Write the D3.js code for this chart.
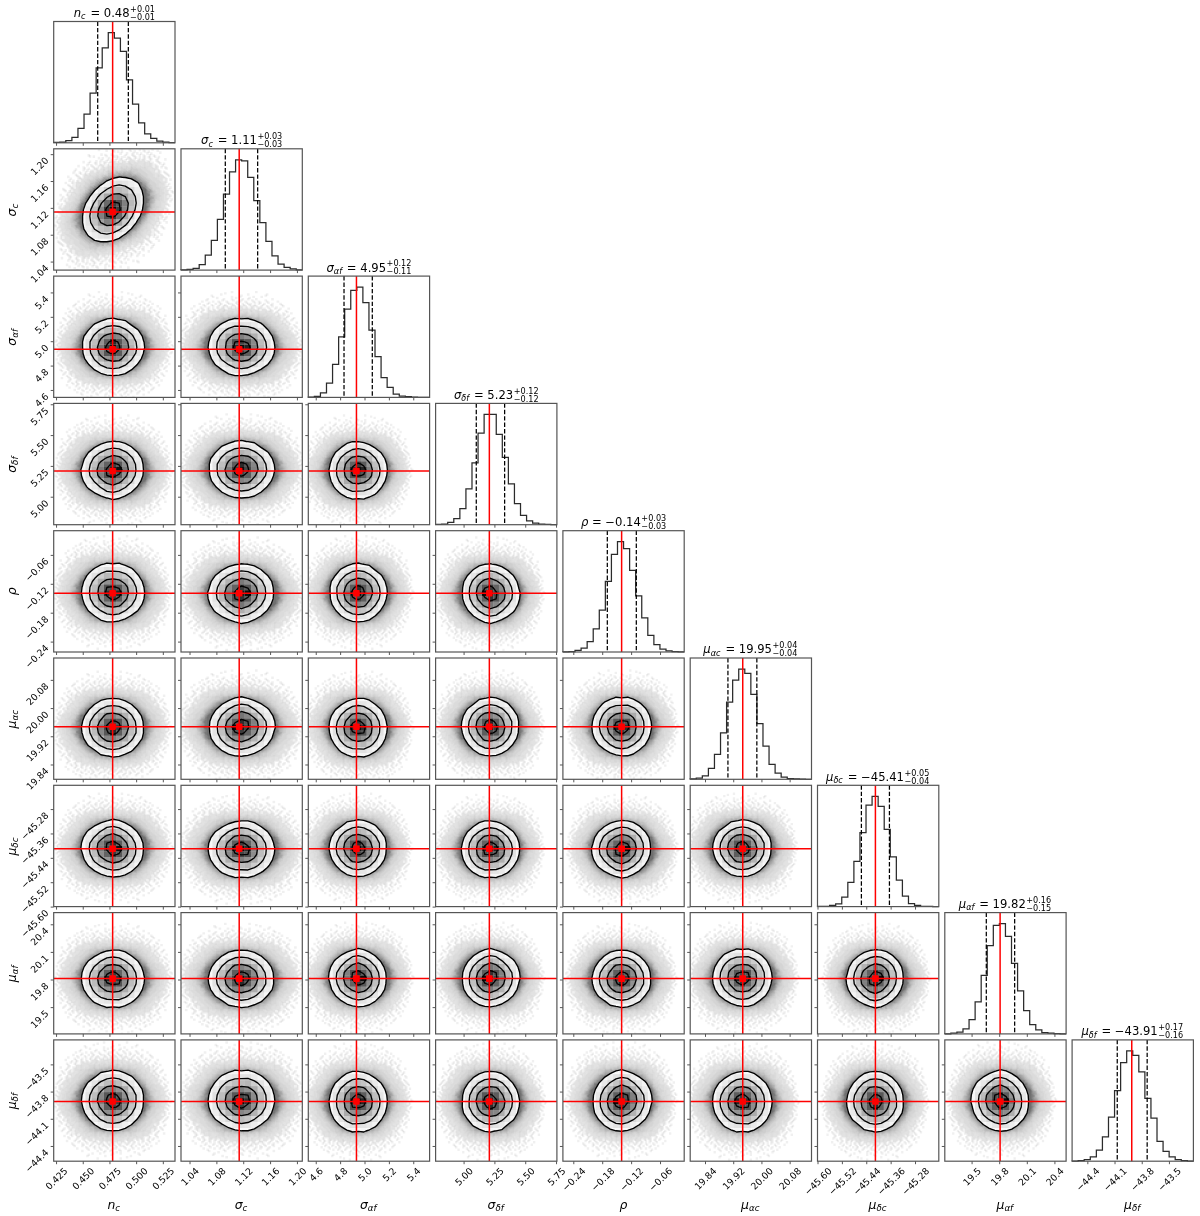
<!DOCTYPE html>
<html>
<head>
<meta charset="utf-8">
<script src="https://d3js.org/d3.v7.min.js"></script>
<style>
  body { margin: 0; background: #fff; }
  svg { filter: blur(0.35px); }
  text { font-family: "DejaVu Sans", sans-serif; fill: #000; }
  .math { font-style: italic; }
</style>
</head>
<body>
<svg id="chart" width="1200" height="1216"></svg>
<script>
// parameter names, split in symbol and subscript
const symbols = ["n", "σ", "σ", "σ", "ρ", "μ", "μ", "μ", "μ"];
const subscripts = ["c", "c", "αf", "δf", "", "αc", "δc", "αf", "δf"];

// axis limits and ticks
const ranges = [[0.4228, 0.5364], [1.0273, 1.208], [4.539, 5.534], [4.773, 5.757],
  [-0.2616, -0.0098], [19.798, 20.142], [-45.6, -45.202], [19.209, 20.527], [-44.568, -43.23]];
const ticks = [[0.425, 0.45, 0.475, 0.5, 0.525], [1.04, 1.08, 1.12, 1.16, 1.2], [4.6, 4.8, 5.0, 5.2, 5.4],
  [5.0, 5.25, 5.5, 5.75], [-0.24, -0.18, -0.12, -0.06], [19.84, 19.92, 20.0, 20.08],
  [-45.6, -45.52, -45.44, -45.36, -45.28], [19.5, 19.8, 20.1, 20.4], [-44.4, -44.1, -43.8, -43.5]];
const tickDecimals = [3, 2, 1, 2, 2, 2, 2, 1, 1];

// titles
const medians = ["0.48", "1.11", "4.95", "5.23", "−0.14", "19.95", "−45.41", "19.82", "−43.91"];
const errPlus = ["0.01", "0.03", "0.12", "0.12", "0.03", "0.04", "0.05", "0.16", "0.17"];
const errMinus = ["0.01", "0.03", "0.11", "0.12", "0.03", "0.04", "0.04", "0.15", "0.16"];

// dashed quantiles and the red truth lines
const q16 = [0.464, 1.0933, 4.832, 5.103, -0.1694, 19.905, -45.456, 19.66, -44.07];
const q84 = [0.4927, 1.1415, 5.064, 5.333, -0.1092, 19.987, -45.364, 19.968, -43.74];
const truths = [0.478, 1.114, 4.934, 5.209, -0.1397, 19.947, -45.41, 19.81, -43.91];

// 20 bin histograms, percent of the peak bin
const hists = [
  [0.3, 0.6, 2, 5, 13, 26, 45, 68, 86, 100, 95, 83, 57, 35, 18, 8, 4, 1.5, 0.6, 0.2],
  [0.3, 0.6, 1.5, 5, 13.5, 27, 46, 69, 89, 100, 99, 84, 63, 43, 26, 13, 5.5, 2.5, 1, 0.3],
  [0.3, 1, 4, 13, 30, 55, 80, 97, 100, 86, 61, 37, 18, 9, 3, 1.2, 0.6, 0.2, 0.1, 0],
  [0.2, 0.6, 2, 5.5, 14.5, 32.5, 56, 83, 100, 100, 82, 61, 37, 19, 8.5, 3.5, 1.5, 0.6, 0.3, 0.1],
  [0.1, 0.4, 1.5, 3.6, 9.4, 21, 38, 64, 88.5, 100, 93.7, 74, 51, 31, 15, 6.6, 2.7, 1, 0.4, 0.1],
  [0.3, 1, 3, 10, 22.6, 42, 70, 90, 100, 96, 77, 50.5, 30, 13.6, 5.5, 2, 0.6, 0.3, 0.1, 0],
  [0.1, 0.3, 1, 2.4, 8.5, 22, 41, 67, 92, 100, 91, 70, 45, 24, 9.4, 2.7, 1, 0.3, 0.1, 0],
  [0.1, 0.6, 1.5, 4.5, 13, 29, 53, 80, 98.5, 100, 88.5, 64, 39, 21, 8.5, 3.6, 1.2, 0.6, 0.2, 0],
  [0.1, 0.5, 1.5, 4, 10, 22, 40, 64, 89.5, 100, 96, 81, 57, 39, 18, 9, 4, 1.5, 0.6, 0.1]
];

// 2d densities, percent of the peak. Too many panels to read one by one, so these are
// eyeballed typical panels, in steps of 0.4 sigma around the middle of the panel.
const densityA = [
  [0, 1, 2, 3, 4, 5, 7, 6, 4, 3, 2, 1, 0],
  [1, 2, 4, 7, 10, 14, 15, 13, 11, 7, 4, 2, 1],
  [2, 4, 8, 15, 21, 27, 30, 27, 22, 13, 8, 4, 2],
  [3, 7, 14, 25, 36, 47, 52, 47, 36, 26, 15, 7, 3],
  [4, 11, 21, 36, 56, 66, 72, 70, 55, 37, 22, 11, 5],
  [5, 13, 28, 46, 66, 84, 95, 86, 70, 47, 28, 14, 6],
  [6, 13, 27, 50, 74, 92, 100, 90, 72, 52, 30, 15, 6],
  [5, 12, 26, 44, 68, 86, 90, 84, 64, 46, 27, 13, 5],
  [4, 10, 19, 34, 52, 65, 71, 68, 50, 34, 19, 10, 4],
  [3, 7, 13, 24, 34, 43, 47, 44, 34, 24, 13, 6, 3],
  [2, 4, 8, 13, 19, 25, 27, 25, 19, 13, 7, 3, 1],
  [1, 2, 3, 6, 9, 12, 13, 12, 10, 6, 3, 2, 1],
  [0, 1, 1, 2, 4, 5, 5, 5, 4, 2, 1, 1, 0]
];
const densityB = [
  [0, 1, 2, 3, 5, 6, 6, 6, 4, 3, 1, 1, 0],
  [1, 2, 4, 8, 11, 15, 14, 15, 12, 7, 4, 2, 1],
  [2, 4, 9, 16, 23, 27, 28, 28, 22, 16, 9, 4, 2],
  [3, 7, 15, 27, 38, 46, 47, 50, 39, 27, 16, 7, 3],
  [4, 11, 22, 38, 54, 66, 72, 66, 56, 38, 23, 11, 4],
  [5, 14, 28, 47, 69, 86, 90, 88, 68, 47, 28, 14, 5],
  [6, 15, 30, 50, 72, 96, 100, 94, 70, 50, 29, 15, 6],
  [5, 14, 26, 46, 65, 84, 92, 82, 66, 45, 27, 13, 5],
  [4, 11, 20, 34, 50, 66, 70, 66, 52, 35, 20, 10, 4],
  [3, 7, 14, 22, 33, 44, 48, 43, 33, 23, 14, 7, 3],
  [2, 4, 7, 12, 18, 24, 27, 25, 20, 13, 8, 4, 2],
  [1, 2, 3, 5, 8, 11, 13, 13, 10, 7, 4, 2, 1],
  [0, 1, 1, 2, 3, 4, 5, 5, 4, 3, 2, 1, 0]
];
const densityC = [
  [0, 1, 1, 3, 4, 5, 6, 5, 4, 3, 1, 1, 0],
  [1, 2, 3, 6, 9, 13, 16, 14, 9, 6, 3, 2, 1],
  [1, 4, 8, 14, 20, 29, 32, 28, 20, 13, 7, 4, 1],
  [3, 7, 16, 24, 34, 46, 54, 44, 34, 23, 13, 6, 2],
  [4, 12, 22, 34, 52, 70, 76, 68, 50, 34, 19, 9, 4],
  [5, 15, 28, 48, 72, 88, 94, 84, 66, 44, 25, 12, 5],
  [6, 16, 30, 52, 74, 90, 98, 100, 74, 48, 27, 13, 5],
  [5, 13, 27, 46, 68, 82, 92, 86, 68, 45, 26, 12, 5],
  [4, 10, 21, 36, 52, 64, 74, 68, 54, 36, 21, 10, 4],
  [3, 6, 14, 25, 34, 44, 50, 46, 36, 25, 14, 7, 3],
  [1, 3, 8, 13, 19, 25, 29, 27, 21, 14, 8, 4, 2],
  [1, 2, 3, 6, 9, 12, 14, 13, 10, 7, 4, 2, 1],
  [0, 1, 1, 2, 3, 5, 6, 5, 4, 3, 1, 1, 0]
];
// the one panel with a visible correlation (n_c against sigma_c)
const densityTilted = [
  [0, 0, 0, 1, 2, 3, 4, 5, 6, 5, 4, 2, 1],
  [0, 0, 1, 2, 5, 8, 11, 14, 13, 11, 8, 5, 2],
  [0, 1, 3, 6, 11, 18, 25, 29, 26, 21, 15, 8, 4],
  [1, 2, 6, 13, 23, 35, 46, 48, 44, 33, 20, 11, 5],
  [2, 5, 11, 23, 40, 58, 70, 72, 61, 44, 26, 13, 6],
  [3, 8, 18, 35, 58, 80, 92, 88, 72, 49, 28, 13, 5],
  [4, 11, 25, 45, 70, 92, 100, 92, 70, 45, 24, 11, 4],
  [5, 13, 28, 49, 72, 88, 92, 80, 58, 35, 18, 8, 3],
  [6, 13, 26, 44, 61, 72, 70, 58, 40, 23, 11, 5, 2],
  [5, 11, 21, 33, 44, 48, 45, 35, 23, 13, 6, 2, 1],
  [4, 8, 14, 21, 26, 28, 24, 18, 11, 6, 3, 1, 0],
  [2, 5, 8, 11, 13, 13, 11, 8, 5, 2, 1, 0, 0],
  [1, 2, 4, 5, 6, 5, 4, 3, 2, 1, 0, 0, 0]
];
const densities = [densityA, densityB, densityC, densityTilted];
const levels = [13.5, 32.5, 60.7, 88]; // 2, 1.5, 1 and 0.5 sigma

// which density each panel uses and how it is mirrored (1 = x, 2 = y), row by row
const panelShape = [[3], [0, 1], [2, 0, 1], [1, 2, 0, 2], [0, 2, 1, 0, 1], [2, 1, 0, 1, 2, 0],
  [1, 0, 2, 2, 0, 1, 2], [0, 1, 1, 0, 2, 1, 0, 2]];
const panelFlip = [[0], [0, 1], [2, 0, 3], [1, 2, 0, 3], [3, 1, 2, 1, 0], [0, 2, 1, 3, 2, 1],
  [2, 3, 0, 1, 3, 0, 2], [1, 0, 3, 2, 1, 2, 3, 0]];
const panelShear = [[0.25]];

// scatter halo outside the contours, darkness 0-9, in steps of 1/6 sigma. The middle sits
// under the white contour patch.
const halo = [
  "000000000000000000100000000100000000000000000000",
  "000000000000001000000100000000010000000000000000",
  "000000000000000010010000100100000010000000000000",
  "000000000000100000100101000100100000100000000000",
  "000000000010001001010010110001001010001000000000",
  "000000000100100101001101010110010100100100000000",
  "000000001000101010121011201101201010010001000000",
  "000000100101010112012122112210211010101000100000",
  "000000010010121112213122321221312112101010000000",
  "000001001012112223232343332323232211211001000000",
  "000000101121223234344455454443343221212101001000",
  "000010011212233445556666656565544432322110100000",
  "000001012122334556677999999776654433221211010000",
  "000100112123345667999999999999766543322121001000",
  "000010121223456799999999999999997654332211100000",
  "000101212234567999999999999999999765432212101000",
  "001001112335679999999999999999999976543222110100",
  "000101223346799999999999999999999997653322111000",
  "000112223457999999999999999999999999754332211010",
  "001012233468999999999999999999999999964332121000",
  "000112234569999999999999999999999999976433211100",
  "010122234579999999999999999999999999986542221010",
  "001112335679999999999999999999999999986543221100",
  "001212345689999999999999999999999999997643321101",
  "010122345679999999999999999999999999996543221010",
  "001112334589999999999999999999999999976532221100",
  "000122334679999999999999999999999999986432211010",
  "001012233569999999999999999999999999975433211100",
  "000112233457999999999999999999999999864332121000",
  "000101223346799999999999999999999997643322110100",
  "001011122345699999999999999999999996543221101000",
  "000101212234568999999999999999999975432212010000",
  "000010112223456799999999999999997654332111001000",
  "000100101223345678999999999999876543221210100000",
  "000001011122334456678999999877654433221101000000",
  "000010010112233345556667766665544332121010010000",
  "000000100111222334344555544543433322111001000000",
  "000000010011211223233334333232322121101010000000",
  "000000100100112112122322123121211211010001000000",
  "000000001010101011211121212111101101001000000000",
  "000000000100100101011011101010110010010000000000",
  "000000000010010010100101010101001001000100000000",
  "000000000000100010010010001001010010000000000000",
  "000000000001000001000100100010000100000000000000",
  "000000000000000100000010000100000000000000000000",
  "000000000000010000000000100000000100000000000000",
  "000000000000000000100000000000000000000000000000",
  "000000000000000000000000000000000000000000000000"
];
const haloOpacity = [0, 0.06, 0.075, 0.09, 0.115, 0.15, 0.2, 0.25, 0.3, 0.34];

// layout
const left0 = 53.7, top0 = 21.5, step = 127.3, size = 121.3;
const tickFont = 9.3, titleFont = 11.6, labelFont = 12.4;
const n = symbols.length;

const svg = d3.select("#chart");

const xs = ranges.map((r, i) => d3.scaleLinear().domain(r).range([left0 + i * step, left0 + i * step + size]));
const ys = ranges.map((r, i) => d3.scaleLinear().domain(r).range([top0 + i * step + size, top0 + i * step]));
const mids = q16.map((q, i) => (q + q84[i]) / 2);
const sigmas = q16.map((q, i) => (q84[i] - q) / 2);

const cellOpacity = d3.scaleLinear().domain([0, 13.5, 32, 60, 88, 100]).range([0, 0.03, 0.14, 0.36, 0.68, 0.95]).clamp(true);

function mathLabel(sel, sym, sub, size) {
  sel.append("tspan").attr("class", "math").text(sym);
  if (sub) {
    sel.append("tspan").attr("class", "math").attr("font-size", size * 0.7).attr("dy", size * 0.2).text(sub);
    sel.append("tspan").attr("dy", -size * 0.2).text("\u200a");
  }
}

// ticks only; the frame is drawn separately so it ends up on top
function drawAxis(g, axis, dim, showLabels) {
  g.call(axis.tickSizeOuter(0));
  g.select(".domain").remove();
  g.selectAll(".tick line").attr("stroke", "#444").attr("stroke-width", 0.9);
  g.selectAll(".tick text")
    .attr("font-family", "DejaVu Sans")
    .attr("font-size", tickFont)
    .style("display", showLabels ? null : "none");
  if (showLabels && dim === "x") {
    // centred under the tick, with the top of the rotated label at a fixed height
    g.selectAll(".tick text").attr("text-anchor", "middle").attr("x", 0).attr("y", 0).attr("dy", "0.35em")
      .attr("transform", function () {
        return `translate(0,${8 + this.getComputedTextLength() * 0.354}) rotate(-45)`;
      });
  }
  if (showLabels && dim === "y") {
    g.selectAll(".tick text").attr("text-anchor", "end").attr("x", 0).attr("y", 0).attr("dy", 0)
      .attr("transform", "translate(-4.5,6.5) rotate(-45)");
  }
}

function drawFrame(col, row) {
  const left = xs[col].range()[0], top = ys[row].range()[1];
  svg.append("rect").attr("x", left).attr("y", top).attr("width", size).attr("height", size)
    .attr("fill", "none").attr("stroke", "#555").attr("stroke-width", 1.2);
}

function addClip(id, col, row) {
  svg.append("clipPath").attr("id", id).append("rect")
    .attr("x", xs[col].range()[0]).attr("y", ys[row].range()[1])
    .attr("width", size).attr("height", size);
}

function drawDiagonal(i) {
  const left = xs[i].range()[0], top = ys[i].range()[1];
  const yHist = d3.scaleLinear().domain([0, 110]).range([top + size, top]);
  const edges = d3.range(21).map(k => ranges[i][0] + (ranges[i][1] - ranges[i][0]) * k / 20);
  const points = hists[i].map((v, k) => [edges[k], v]);
  points.unshift([edges[0], 0]);
  points.push([edges[20], hists[i][19]]);
  const line = d3.line().x(d => xs[i](d[0])).y(d => yHist(d[1])).curve(d3.curveStepAfter);
  svg.append("path").attr("d", line(points)).attr("fill", "none")
    .attr("stroke", "#2b2b2b").attr("stroke-width", 1.25);

  [q16[i], q84[i]].forEach(q => {
    svg.append("line").attr("x1", xs[i](q)).attr("x2", xs[i](q)).attr("y1", top).attr("y2", top + size)
      .attr("stroke", "#000").attr("stroke-width", 1.25).attr("stroke-dasharray", "4.4,2");
  });
  svg.append("line").attr("x1", xs[i](truths[i])).attr("x2", xs[i](truths[i])).attr("y1", top).attr("y2", top + size)
    .attr("stroke", "#f00").attr("stroke-width", 1.5);

  const axis = d3.axisBottom(xs[i]).tickValues(ticks[i]).tickSize(3)
    .tickFormat(d3.format("." + tickDecimals[i] + "f"));
  drawAxis(svg.append("g").attr("transform", `translate(0,${top + size})`), axis, "x", i === n - 1);
  drawFrame(i, i);

  // title, with the two errors stacked after the median
  const title = svg.append("g");
  const main = title.append("text").attr("font-size", titleFont).attr("y", top - 4.6);
  mathLabel(main, symbols[i], subscripts[i], titleFont);
  main.append("tspan").text(" = " + medians[i]);
  const w = main.node().getComputedTextLength();
  const errs = title.append("g").attr("transform", `translate(${w + 0.5},0)`);
  errs.append("text").attr("font-size", titleFont * 0.7).attr("y", top - 9.8).text("+" + errPlus[i]);
  errs.append("text").attr("font-size", titleFont * 0.7).attr("y", top - 1.8).text("−" + errMinus[i]);
  const total = title.node().getBBox().width;
  title.attr("transform", `translate(${left + size / 2 - total / 2},0)`);
}

function drawPanel(row, col) {
  const left = xs[col].range()[0], top = ys[row].range()[1];
  const flip = panelFlip[row - 1][col];
  const fx = flip & 1 ? -1 : 1, fy = flip & 2 ? -1 : 1;
  const shear = (panelShear[row - 1] && panelShear[row - 1][col]) || 0;
  const px = u => xs[col](mids[col] + fx * u * sigmas[col]);
  const py = v => ys[row](mids[row] + fy * v * sigmas[row]);
  const id = `clip-${row}-${col}`, idOuter = `outer-${row}-${col}`;
  addClip(id, col, row);
  const g = svg.append("g").attr("clip-path", `url(#${id})`);

  // halo, one path per darkness so there are not tens of thousands of rects.
  // drawn twice, the second pass mirrored and shifted half a cell, so it reads finer
  const dh = 1 / 6;
  [1, -1].forEach(pass => {
    const paths = d3.range(10).map(() => d3.path());
    const shift = pass < 0 ? dh / 2 : 0;
    halo.forEach((line, r) => {
      for (let c = 0; c < line.length; c++) {
        const d = +line[c];
        if (!d) continue;
        const u0 = (c - 23.5) * dh;
        const u = pass * u0 + shift, v = pass * (23.5 - r) * dh + shift + shear * u;
        const x0 = px(u - dh / 2), x1 = px(u + dh / 2), y0 = py(v - dh / 2), y1 = py(v + dh / 2);
        paths[d].rect(Math.min(x0, x1), Math.min(y0, y1), Math.abs(x1 - x0), Math.abs(y1 - y0));
      }
    });
    paths.forEach((p, d) => {
      if (d) g.append("path").attr("d", p.toString()).attr("fill", "#000").attr("fill-opacity", haloOpacity[d]);
    });
  });

  // contours of the density grid; d3.contours puts value k at k + 0.5
  const grid = densities[panelShape[row - 1][col]];
  const cols = grid[0].length, mid = (cols - 1) / 2, dg = 0.4;
  const polys = d3.contours().size([cols, grid.length]).thresholds(levels)(grid.flat());
  const geo = d3.geoPath(d3.geoTransform({
    point: function (a, b) {
      this.stream.point(px((a - 0.5 - mid) * dg), py((mid - (b - 0.5)) * dg));
    }
  }));
  g.append("path").attr("d", geo(polys[0])).attr("fill", "#fff");
  svg.append("clipPath").attr("id", idOuter).append("path").attr("d", geo(polys[0]));

  const cells = g.append("g").attr("clip-path", `url(#${idOuter})`);
  grid.forEach((line, r) => line.forEach((v, c) => {
    const x0 = px((c - mid - 0.5) * dg), x1 = px((c - mid + 0.5) * dg);
    const y0 = py((mid - r - 0.5) * dg), y1 = py((mid - r + 0.5) * dg);
    cells.append("rect").attr("x", Math.min(x0, x1)).attr("y", Math.min(y0, y1))
      .attr("width", Math.abs(x1 - x0)).attr("height", Math.abs(y1 - y0))
      .attr("fill", "#000").attr("fill-opacity", cellOpacity(v));
  }));
  polys.forEach(p => {
    g.append("path").attr("d", geo(p)).attr("fill", "none").attr("stroke", "#000")
      .attr("stroke-width", 1.35).attr("stroke-linejoin", "round");
  });

  // truth cross and marker
  const tx = xs[col](truths[col]), ty = ys[row](truths[row]);
  g.append("line").attr("x1", tx).attr("x2", tx).attr("y1", top).attr("y2", top + size)
    .attr("stroke", "#f00").attr("stroke-width", 1.5);
  g.append("line").attr("x1", left).attr("x2", left + size).attr("y1", ty).attr("y2", ty)
    .attr("stroke", "#f00").attr("stroke-width", 1.5);
  g.append("rect").attr("x", tx - 3.3).attr("y", ty - 3.3).attr("width", 6.6).attr("height", 6.6)
    .attr("rx", 1).attr("fill", "#f00");

  const xAxis = d3.axisBottom(xs[col]).tickValues(ticks[col]).tickSize(3)
    .tickFormat(d3.format("." + tickDecimals[col] + "f"));
  drawAxis(svg.append("g").attr("transform", `translate(0,${top + size})`), xAxis, "x", row === n - 1);
  const yAxis = d3.axisLeft(ys[row]).tickValues(ticks[row]).tickSize(3)
    .tickFormat(d3.format("." + tickDecimals[row] + "f"));
  drawAxis(svg.append("g").attr("transform", `translate(${left},0)`), yAxis, "y", col === 0);
  drawFrame(col, row);
}

d3.range(n).forEach(i => {
  drawDiagonal(i);
  d3.range(i).forEach(col => drawPanel(i, col));

  const xLabel = svg.append("text").attr("text-anchor", "middle").attr("font-size", labelFont)
    .attr("x", xs[i].range()[0] + size / 2).attr("y", 1209);
  mathLabel(xLabel, symbols[i], subscripts[i], labelFont);
  if (i > 0) {
    const cy = ys[i].range()[1] + size / 2;
    const yLabel = svg.append("text").attr("text-anchor", "middle").attr("font-size", labelFont)
      .attr("transform", `translate(15.5,${cy}) rotate(-90)`);
    mathLabel(yLabel, symbols[i], subscripts[i], labelFont);
  }
});
</script>
</body>
</html>
